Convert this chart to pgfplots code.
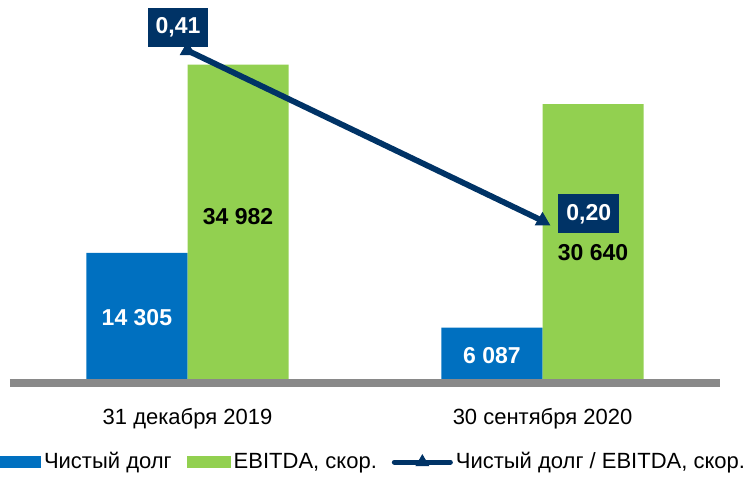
\documentclass[border=0pt]{standalone}
\usepackage{fontspec}
\setmainfont{Liberation Sans}
\usepackage{pgfplots}
\usepackage{pgfplotstable}
\pgfplotsset{compat=1.18}

\definecolor{debtblue}{RGB}{0,112,192}
\definecolor{ebitdagreen}{RGB}{146,208,80}
\definecolor{rationavy}{RGB}{0,51,102}
\definecolor{basegray}{RGB}{137,137,137}

\pgfplotsset{
  barleg/.style={legend image code/.code={\fill[##1] (0pt,-3.2pt) rectangle (22pt,3.2pt);}},
  lineleg/.style={legend image code/.code={\draw[##1, mark repeat=2, mark phase=2]
    plot coordinates {(0pt,0pt) (14pt,0pt) (28pt,0pt)};}},
  ratiolabel/.style={draw=none, mark=none, forget plot,
    nodes near coords={\pgfmathprintnumber[fixed, fixed zerofill, precision=2, use comma]{\pgfplotspointmeta}},
    point meta=y,
    nodes near coords style={fill=rationavy, text=white,
      font=\bfseries\fontsize{11.5}{13}\selectfont,
      inner xsep=4pt, inner ysep=0pt, minimum height=19.5pt, #1}},
  barlabel/.style={draw=none, mark=none, forget plot,
    nodes near coords={\pgfmathprintnumber[fixed, precision=0, 1000 sep={\ }]{\pgfplotspointmeta}},
    nodes near coords style={anchor=center, font=\bfseries\fontsize{11.5}{13}\selectfont, #1}},
}

% net debt and EBITDA, RUB mn
\pgfplotstableread{
x debt ebitda
0 14305 34982
1 6087 30640
}\bars

% net debt / EBITDA
\pgfplotstableread{
x r
0 0.41
1 0.20
}\ratio

\begin{document}
\begin{tikzpicture}
\pgfplotsset{
  base/.style={scale only axis, width=355pt, height=186.5pt,
    xmin=-0.5, xmax=1.5, clip=false, at={(0,0)}, anchor=south west},
  /pgf/number format/assume math mode=true,
}
\begin{axis}[base, name=ax,
  ymin=0, ymax=41000,
  axis x line=bottom, axis y line=none, axis on top,
  axis line style={-},
  x axis line style={-, line width=4pt, color=basegray},
  xtick={0,1}, xticklabels={31 декабря 2019, 30 сентября 2020},
  xtick style={draw=none},
  xticklabel style={font=\fontsize{11}{13}\selectfont, yshift=-7pt},
  legend columns=3,
  legend style={at={(0.5106,-0.212)}, anchor=center, draw=none, fill=none,
    inner sep=0pt, font=\fontsize{11}{13}\selectfont,
    nodes={inner sep=1.5pt},
    /tikz/every even column/.append style={column sep=6pt}},
]
\addplot[ybar, bar width=0.285, bar shift=-0.1425, fill=debtblue, draw=none, barleg]
  table[x=x, y=debt] {\bars};
\addlegendentry{Чистый долг}
\addplot[ybar, bar width=0.285, bar shift=0.1425, fill=ebitdagreen, draw=none, barleg]
  table[x=x, y=ebitda] {\bars};
\addlegendentry{EBITDA, скор.}
\addlegendimage{rationavy, line width=2.5pt, line cap=round, mark=triangle*, mark size=3.5pt,
  mark options={solid, fill=rationavy, line width=0.5pt}, lineleg}
\addlegendentry{Чистый долг / EBITDA, скор.}

% value labels in the bars
\addplot[barlabel={text=white}, point meta=\thisrow{debt}]
  table[x expr=\thisrow{x}-0.1425, y expr=\thisrow{debt}/2] {\bars};
\addplot[barlabel={text=black, yshift=3.5pt}, point meta=\thisrow{ebitda},
  skip coords between index={1}{2}]
  table[x expr=\thisrow{x}+0.1425, y expr=\thisrow{ebitda}/2] {\bars};
\addplot[barlabel={text=black, yshift=-4.5pt}, point meta=\thisrow{ebitda},
  skip coords between index={0}{1}]
  table[x expr=\thisrow{x}+0.1425, y expr=\thisrow{ebitda}/2] {\bars};
\end{axis}

\begin{axis}[base, ymin=0, ymax=0.46, hide axis]
\addplot[rationavy, line width=2.9pt, mark=triangle*, mark size=4pt,
  mark options={solid, fill=rationavy, line width=0.5pt}]
  table[x=x, y=r] {\ratio};
\addplot[ratiolabel={anchor=south, xshift=-4.75pt, yshift=1.5pt},
  skip coords between index={1}{2}] table[x=x, y=r] {\ratio};
\addplot[ratiolabel={anchor=west, xshift=7.75pt, yshift=3.5pt},
  skip coords between index={0}{1}] table[x=x, y=r] {\ratio};
\end{axis}

\pgfresetboundingbox
\path[use as bounding box] ([shift={(-5pt,-47pt)}]ax.south west)
  rectangle ([shift={(14pt,5pt)}]ax.north east);
\end{tikzpicture}
\end{document}
